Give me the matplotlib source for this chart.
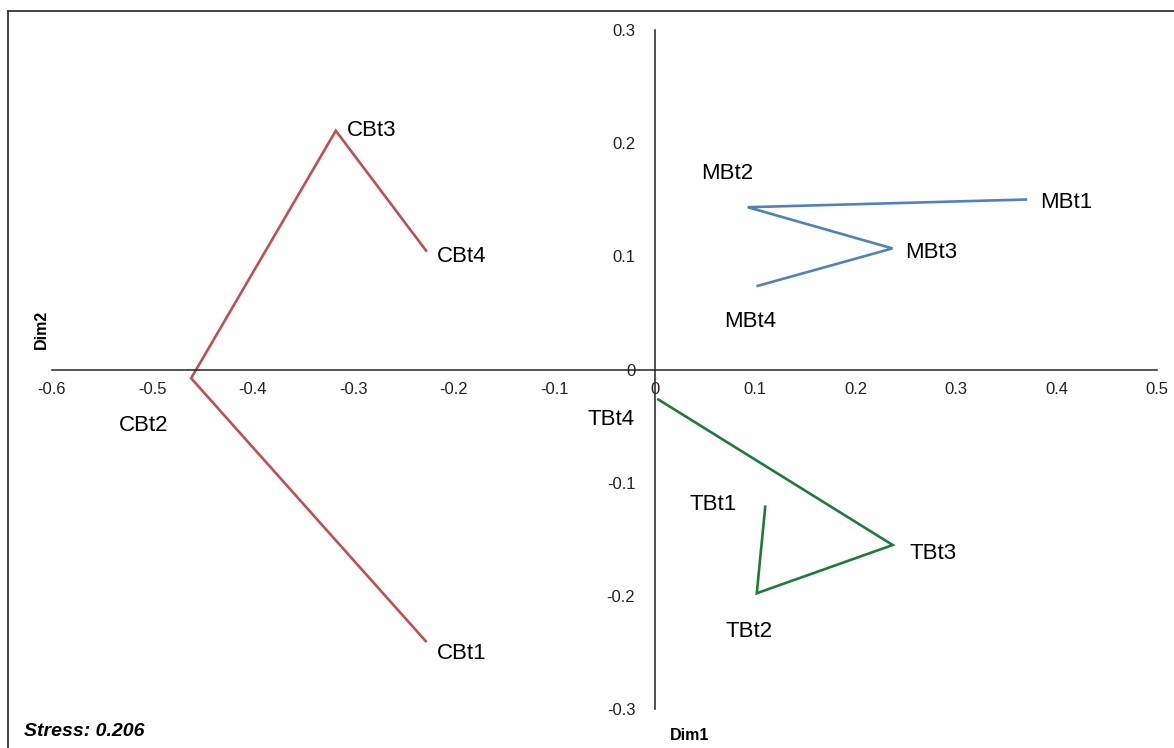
import matplotlib.pyplot as plt
from matplotlib.lines import Line2D

plt.rcParams['font.family'] = ['Liberation Sans', 'DejaVu Sans']

# MDS coordinates (Dim1, Dim2) per group, in time order t1..t4
cb_labels = ['CBt1', 'CBt2', 'CBt3', 'CBt4']
cb_dim1 = [-0.228, -0.4615, -0.3175, -0.2277]
cb_dim2 = [-0.240, -0.0077, 0.211, 0.1051]

mb_labels = ['MBt1', 'MBt2', 'MBt3', 'MBt4']
mb_dim1 = [0.3694, 0.0926, 0.2366, 0.1025]
mb_dim2 = [0.1502, 0.1434, 0.1070, 0.0739]

tb_labels = ['TBt1', 'TBt2', 'TBt3', 'TBt4']
tb_dim1 = [0.1100, 0.1016, 0.2369, 0.0036]
tb_dim2 = [-0.1213, -0.1977, -0.1551, -0.0265]

x_ticks = [-0.6, -0.5, -0.4, -0.3, -0.2, -0.1, 0, 0.1, 0.2, 0.3, 0.4, 0.5]
y_ticks = [-0.3, -0.2, -0.1, 0, 0.1, 0.2, 0.3]
stress = 0.206

# label placement relative to each point, in pixels: (dx, dy, ha)
label_pos = {
    'CBt1': (11, -12, 'left'), 'CBt2': (-48, -47, 'center'),
    'CBt3': (11, 0, 'left'), 'CBt4': (11, -6, 'left'),
    'MBt1': (14, -3, 'left'), 'MBt2': (-21, 34, 'center'),
    'MBt3': (13, -4, 'left'), 'MBt4': (-8, -36, 'center'),
    'TBt1': (-52, 2, 'center'), 'TBt2': (-8, -38, 'center'),
    'TBt3': (17, -8, 'left'), 'TBt4': (-47, -20, 'center'),
}

fig = plt.figure(figsize=(11.74, 7.48), dpi=100)
ax = fig.add_axes([52 / 1174, 39 / 748, 1105 / 1174, 679 / 748])

groups = [
    (cb_labels, cb_dim1, cb_dim2, '#C0504D'),
    (mb_labels, mb_dim1, mb_dim2, '#4F81BD'),
    (tb_labels, tb_dim1, tb_dim2, '#1E7B3A'),
]
for labels, xs, ys, color in groups:
    ax.plot(xs, ys, color=color, lw=1.9, solid_joinstyle='miter')
    for lab, x, y in zip(labels, xs, ys):
        dx, dy, ha = label_pos[lab]
        ax.annotate(lab, (x, y), xytext=(dx, dy), textcoords='offset pixels',
                    ha=ha, va='center', fontsize=16, color='black')

ax.set_xlim(-0.6, 0.5)
ax.set_ylim(-0.3, 0.3)
ax.spines['left'].set_position(('data', 0))
ax.spines['bottom'].set_position(('data', 0))
ax.spines['top'].set_visible(False)
ax.spines['right'].set_visible(False)
for s in ('left', 'bottom'):
    ax.spines[s].set_color('#222222')
    ax.spines[s].set_linewidth(1.1)
ax.set_xticks(x_ticks)
ax.set_yticks(y_ticks)
ax.set_xticklabels([f'{v:g}' for v in x_ticks])
ax.set_yticklabels([f'{v:g}' for v in y_ticks])
ax.tick_params(length=0, labelsize=12, colors='#222222')
ax.tick_params(axis='x', pad=9)
ax.tick_params(axis='y', pad=14)
ax.patch.set_alpha(0)

fig.text(41 / 1174, 1 - 329 / 748, 'Dim2', rotation=90, ha='center', va='center',
         fontsize=11.5, fontweight='bold')
fig.text(690 / 1174, 1 - 735 / 748, 'Dim1', ha='center', va='center',
         fontsize=11.5, fontweight='bold')
fig.text(24 / 1174, 1 - 731 / 748, f'Stress: {stress}', ha='left', va='center',
         fontsize=14, fontweight='bold', fontstyle='italic')

# outer frame (top and left edges)
fig.add_artist(Line2D([8 / 1174, 1], [1 - 11 / 748] * 2, color='#333333', lw=1.3))
fig.add_artist(Line2D([8 / 1174] * 2, [0, 1 - 11 / 748], color='#333333', lw=1.3))

fig.savefig('out.png', dpi=100)
